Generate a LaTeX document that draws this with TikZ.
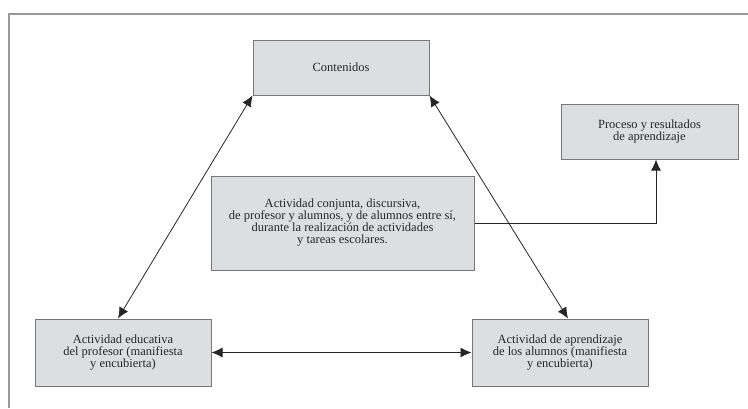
\documentclass[tikz,border=0pt]{standalone}
\usepackage{fontspec}
\setmainfont{Liberation Serif}
\usetikzlibrary{positioning}
\usetikzlibrary{calc}
\usetikzlibrary{arrows.meta}
\definecolor{boxfill}{RGB}{221,222,224}
\definecolor{boxline}{RGB}{118,118,118}
\definecolor{txt}{RGB}{40,40,40}

\begin{document}
\begin{tikzpicture}[x=1pt,y=-1pt,
  every node/.style={draw=boxline,line width=1pt,fill=boxfill,align=center,
    text=txt,font=\fontsize{12.5}{12}\selectfont},
  link/.style={{Latex[length=11pt,width=10pt]}-{Latex[length=11pt,width=10pt]},line width=.8pt,draw=black!85}]
\useasboundingbox (0,0) rectangle (748,408);
\draw[line width=2pt,gray!80] (9,408) -- (9,14) -- (748,14);
\node[minimum width=176pt,minimum height=55pt] (cont) at (341,67.5) {Contenidos};
\node[minimum width=177pt,minimum height=55pt] (proc) at (649.5,131.5) {Proceso y resultados\\de aprendizaje};
\node[minimum width=263pt,minimum height=94pt] (conj) at (342.5,223) {Actividad conjunta, discursiva,\\de profesor y alumnos, y de alumnos entre sí,\\durante la realización de actividades\\y tareas escolares.};
\node[minimum width=176pt,minimum height=67pt] (prof) at (123,352.5) {Actividad educativa\\del profesor (manifiesta\\y encubierta)};
\node[minimum width=176pt,minimum height=67pt] (alum) at (560,352.5) {Actividad de aprendizaje\\de los alumnos (manifiesta\\y encubierta)};
\draw[link] (cont.south west) -- ($(prof.north)+(-5,0)$);
\draw[link] (cont.south east) -- ($(alum.north)+(8,0)$);
\draw[link] (prof.east) -- (alum.west);
\draw[-{Latex[length=11pt,width=10pt]},line width=.8pt,draw=black!85] (conj.east) -| ($(proc.south)+(6.5,0)$);
\end{tikzpicture}
\end{document}
